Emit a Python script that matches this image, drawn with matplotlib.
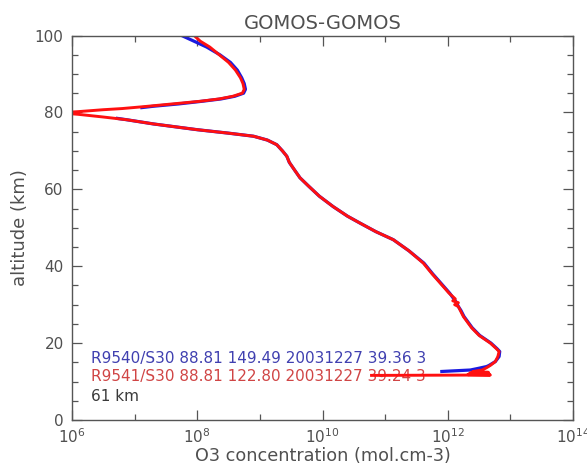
import numpy as np
import matplotlib
matplotlib.use("Agg")
import matplotlib.pyplot as plt
from matplotlib.ticker import FixedLocator, FuncFormatter, NullFormatter

# ---- data (altitude km, log10 O3 concentration) ----
red_alt = [100.0, 98.5, 97.0, 95.0, 93.0, 91.0, 89.0, 87.5, 86.0, 85.0, 84.2, 83.5,
           82.9, 82.2, 81.5, 81.0, 80.7, 80.2, 79.9, 79.5, 78.8, 78.1, 77.0, 75.5,
           74.6, 73.8, 72.8, 71.6, 70.0, 68.6, 67.0, 65.1, 63.0, 60.8, 58.2, 55.5,
           53.0, 51.2, 49.0, 46.9, 44.0, 40.8, 38.0, 35.6, 33.0, 31.5, 31.0, 30.5,
           30.0, 29.5, 28.5, 26.9, 24.0, 22.0, 20.0, 18.5, 17.8, 16.5, 15.2, 14.2,
           13.6, 13.0, 12.6, 12.4, 12.2, 12.0, 11.8, 11.7, 11.6]
red_log = [7.95, 8.05, 8.20, 8.35, 8.50, 8.61, 8.69, 8.73, 8.75, 8.72, 8.57, 8.35,
           8.05, 7.60, 7.15, 6.80, 6.50, 6.10, 5.80, 6.10, 6.50, 6.87, 7.30, 8.00,
           8.50, 8.90, 9.12, 9.27, 9.36, 9.43, 9.47, 9.55, 9.64, 9.78, 9.95, 10.17,
           10.40, 10.60, 10.85, 11.13, 11.38, 11.61, 11.75, 11.88, 12.02, 12.12, 12.08, 12.17,
           12.11, 12.17, 12.20, 12.25, 12.38, 12.50, 12.68, 12.78, 12.82, 12.80, 12.76, 12.68,
           12.62, 12.55, 12.40, 12.65, 12.35, 12.66, 12.32, 12.68, 10.76]

blue_alt = [100.0, 98.5, 97.0, 95.0, 93.0, 91.0, 89.0, 87.5, 86.0, 85.0, 84.2, 83.5,
            82.9, 82.2, 81.6, 81.2, np.nan, 78.5, 78.1, 77.0, 75.5, 74.6, 73.8, 72.8,
            71.6, 70.0, 68.6, 67.0, 65.1, 63.0, 60.8, 58.2, 55.5, 53.0, 51.2, 49.0,
            46.9, 44.0, 40.8, 38.0, 35.6, 33.0, 31.0, 29.5, 28.5, 26.9, 24.0, 22.0,
            20.0, 18.5, 17.8, 16.5, 15.2, 14.2, 13.9, 13.4, 13.0, 12.6]
blue_log = [7.75, 7.95, 8.15, 8.36, 8.53, 8.64, 8.71, 8.75, 8.77, 8.74, 8.60, 8.38,
            8.08, 7.70, 7.30, 7.09, np.nan, 6.70, 6.87, 7.30, 8.00, 8.50, 8.90, 9.12,
            9.27, 9.36, 9.43, 9.47, 9.55, 9.64, 9.78, 9.95, 10.17, 10.40, 10.60, 10.85,
            11.13, 11.38, 11.62, 11.76, 11.89, 12.03, 12.12, 12.17, 12.21, 12.26, 12.39, 12.51,
            12.69, 12.79, 12.83, 12.82, 12.76, 12.66, 12.62, 12.48, 12.36, 11.88]

title = "GOMOS-GOMOS"
xlabel = "O3 concentration (mol.cm-3)"
ylabel = "altitude (km)"
label_blue = "R9540/S30 88.81 149.49 20031227 39.36 3"
label_red = "R9541/S30 88.81 122.80 20031227 39.24 3"
label_alt = "61 km"

x_major = [6, 8, 10, 12, 14]
x_minor = [7, 9, 11, 13]
y_major = [0, 20, 40, 60, 80, 100]

# ---- figure ----
fig = plt.figure(figsize=(5.87, 4.72), dpi=100)
ax = fig.add_axes([72/587, (472-420)/472, (573-72)/587, (420-35.5)/472])

BLUE = "#1a1ae0"
RED = "#ff1010"
GREY = "#555555"
TXT = "#505050"

ax.plot(10**np.array(blue_log, dtype=float), blue_alt, color=BLUE, lw=2.3, solid_capstyle='butt')
ax.plot(10**np.array(red_log, dtype=float), red_alt, color=RED, lw=2.1, solid_capstyle='butt')

ax.set_xscale('log')
ax.set_xlim(1e6, 1e14)
ax.set_ylim(0, 100)

ax.xaxis.set_major_locator(FixedLocator([10.0**e for e in x_major]))
ax.xaxis.set_minor_locator(FixedLocator([10.0**e for e in x_minor]))
ax.xaxis.set_major_formatter(FuncFormatter(lambda v, p: r"$10^{%d}$" % round(np.log10(v))))
ax.xaxis.set_minor_formatter(NullFormatter())
ax.yaxis.set_major_locator(FixedLocator(y_major))
ax.yaxis.set_minor_locator(FixedLocator([v for v in range(0, 101, 5) if v % 20]))

ax.tick_params(which='both', direction='in', top=True, right=True, color=GREY,
               labelcolor=TXT, labelsize=11, width=0.9)
ax.tick_params(which='major', length=7)
ax.tick_params(which='minor', length=4)
ax.tick_params(axis='y', pad=6)
ax.tick_params(axis='x', pad=5)
for s in ax.spines.values():
    s.set_color(GREY)
    s.set_linewidth(1.0)

ax.set_title(title, fontsize=14, color=TXT, pad=5)
ax.set_xlabel(xlabel, fontsize=12.7, color=TXT, labelpad=1)
ax.set_ylabel(ylabel, fontsize=13, color=TXT, labelpad=4)

ax.text(0.038, 0.161, label_blue, transform=ax.transAxes, color="#4040b0",
        fontsize=11, va='center', ha='left')
ax.text(0.038, 0.112, label_red, transform=ax.transAxes, color="#d04545",
        fontsize=11, va='center', ha='left', zorder=1)
ax.text(0.038, 0.060, label_alt, transform=ax.transAxes, color="#3a3a3a",
        fontsize=11, va='center', ha='left')

fig.savefig("out.png", dpi=100)
